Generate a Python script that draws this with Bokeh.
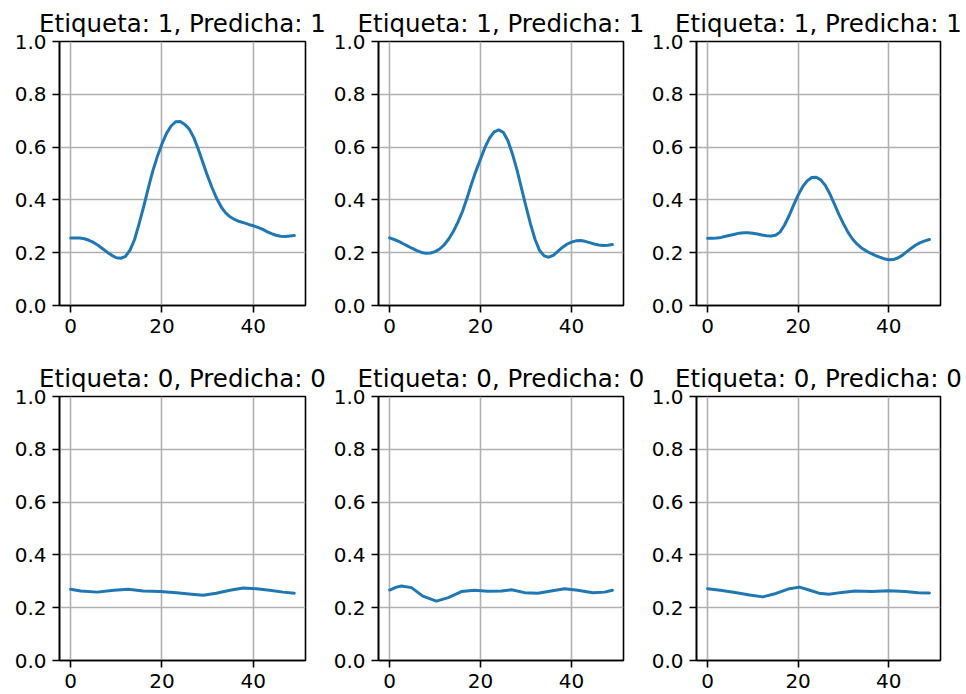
from bokeh.plotting import figure
from bokeh.layouts import gridplot
from bokeh.models import FixedTicker, PrintfTickFormatter, Range1d
from bokeh.embed import file_html
from bokeh.resources import INLINE

titles = ["Etiqueta: 1, Predicha: 1", "Etiqueta: 1, Predicha: 1", "Etiqueta: 1, Predicha: 1",
          "Etiqueta: 0, Predicha: 0", "Etiqueta: 0, Predicha: 0", "Etiqueta: 0, Predicha: 0"]

steps = list(range(50))

y1 = [0.256, 0.256, 0.256, 0.253, 0.247, 0.239, 0.228, 0.215, 0.202, 0.190,
      0.181, 0.179, 0.186, 0.210, 0.250, 0.310, 0.375, 0.445, 0.510, 0.565,
      0.612, 0.652, 0.680, 0.696, 0.697, 0.686, 0.668, 0.635, 0.590, 0.540,
      0.490, 0.445, 0.405, 0.373, 0.350, 0.335, 0.325, 0.318, 0.313, 0.307,
      0.302, 0.296, 0.289, 0.280, 0.272, 0.266, 0.262, 0.261, 0.263, 0.265]

y2 = [0.256, 0.250, 0.243, 0.234, 0.225, 0.216, 0.208, 0.201, 0.198, 0.199,
      0.204, 0.214, 0.230, 0.252, 0.280, 0.315, 0.355, 0.405, 0.460, 0.510,
      0.555, 0.600, 0.635, 0.658, 0.665, 0.656, 0.625, 0.575, 0.515, 0.445,
      0.375, 0.308, 0.250, 0.208, 0.188, 0.183, 0.190, 0.205, 0.220, 0.232,
      0.240, 0.245, 0.246, 0.243, 0.238, 0.233, 0.229, 0.227, 0.228, 0.231]

y3 = [0.255, 0.255, 0.256, 0.258, 0.262, 0.266, 0.270, 0.274, 0.276, 0.276,
      0.274, 0.271, 0.267, 0.264, 0.263, 0.266, 0.278, 0.305, 0.340, 0.380,
      0.418, 0.450, 0.472, 0.485, 0.486, 0.476, 0.455, 0.423, 0.385, 0.345,
      0.310, 0.278, 0.252, 0.233, 0.218, 0.207, 0.198, 0.190, 0.183, 0.177,
      0.173, 0.174, 0.180, 0.190, 0.204, 0.217, 0.229, 0.238, 0.245, 0.250]

x4 = [0, 2.2, 5.8, 9.5, 12.6, 15.9, 19.6, 23.2, 26.5, 29.0, 31.9, 34.9, 37.8, 40.7, 43.6, 46.5, 49]
y4 = [0.270, 0.263, 0.259, 0.266, 0.270, 0.263, 0.261, 0.257, 0.251, 0.247, 0.255, 0.266, 0.275, 0.272,
      0.266, 0.259, 0.255]

x5 = [0, 1.5, 2.6, 4.8, 7.3, 10.3, 12.9, 15.8, 18.7, 21.6, 24.6, 26.8, 29.7, 32.6, 35.5, 38.5, 41.4, 44.7, 47.3, 49]
y5 = [0.267, 0.278, 0.282, 0.276, 0.244, 0.225, 0.238, 0.261, 0.266, 0.262, 0.263, 0.268, 0.257, 0.255, 0.263,
      0.272, 0.266, 0.257, 0.259, 0.266]

x6 = [0, 2.8, 6.4, 9.3, 12.2, 15.1, 18.1, 20.3, 22.4, 24.6, 26.8, 29.7, 32.6, 36.3, 40.0, 43.6, 46.5, 49]
y6 = [0.272, 0.266, 0.257, 0.248, 0.241, 0.254, 0.272, 0.278, 0.267, 0.255, 0.251, 0.258, 0.263, 0.261,
      0.264, 0.261, 0.257, 0.256]

series = [(steps, y1), (steps, y2), (steps, y3), (x4, y4), (x5, y5), (x6, y6)]
x_ticks = [0, 20, 40]
y_ticks = [0.0, 0.2, 0.4, 0.6, 0.8, 1.0]

FONT = "DejaVu Sans"
# (figure width, left border, right border) per column; frame width 246
col_specs = [(330, 59, 25), (318, 47, 25), (318, 46, 26)]
row_borders = [(41, 42), (49, 34)]

figs = []
for i, (title, (xs, ys)) in enumerate(zip(titles, series)):
    r, c = divmod(i, 3)
    w, bl, br = col_specs[c]
    bt, bb = row_borders[r]
    p = figure(width=w, height=347, output_backend="svg", toolbar_location=None,
               x_range=Range1d(-2.45, 51.45), y_range=Range1d(0, 1),
               min_border_left=bl, min_border_right=br, min_border_top=bt, min_border_bottom=bb,
               title=title)
    p.title.text_font = FONT
    p.title.text_font_size = "24.5px"
    p.title.text_font_style = "normal"
    p.title.text_color = "black"
    p.title.align = "center"
    p.title.standoff = 7
    p.outline_line_color = "black"
    p.outline_line_width = 1.6
    p.outline_line_alpha = 1.0
    p.background_fill_color = "white"
    p.border_fill_color = "white"
    for ax in (p.xaxis[0], p.yaxis[0]):
        ax.major_tick_out = 7
        ax.major_tick_in = 0
        ax.minor_tick_out = 0
        ax.minor_tick_in = 0
        ax.major_tick_line_width = 1.6
        ax.major_tick_line_color = "black"
        ax.axis_line_width = 1.6
        ax.axis_line_color = "black"
        ax.major_label_text_font = FONT
        ax.major_label_text_font_size = "20px"
        ax.major_label_text_color = "black"
        ax.major_label_standoff = 6
    p.xaxis[0].ticker = FixedTicker(ticks=x_ticks)
    p.yaxis[0].ticker = FixedTicker(ticks=y_ticks)
    p.yaxis[0].formatter = PrintfTickFormatter(format="%.1f")
    p.xgrid[0].ticker = FixedTicker(ticks=x_ticks)
    p.ygrid[0].ticker = FixedTicker(ticks=y_ticks)
    for g in (p.xgrid[0], p.ygrid[0]):
        g.grid_line_color = "#b0b0b0"
        g.grid_line_width = 1.6
        g.grid_line_alpha = 1.0
    p.line(xs, ys, line_color="#1f77b4", line_width=3, line_join="round", line_cap="round")
    figs.append(p)

grid = gridplot([figs[0:3], figs[3:6]], toolbar_location=None)
open("out.html", "w").write(file_html(grid, INLINE))
